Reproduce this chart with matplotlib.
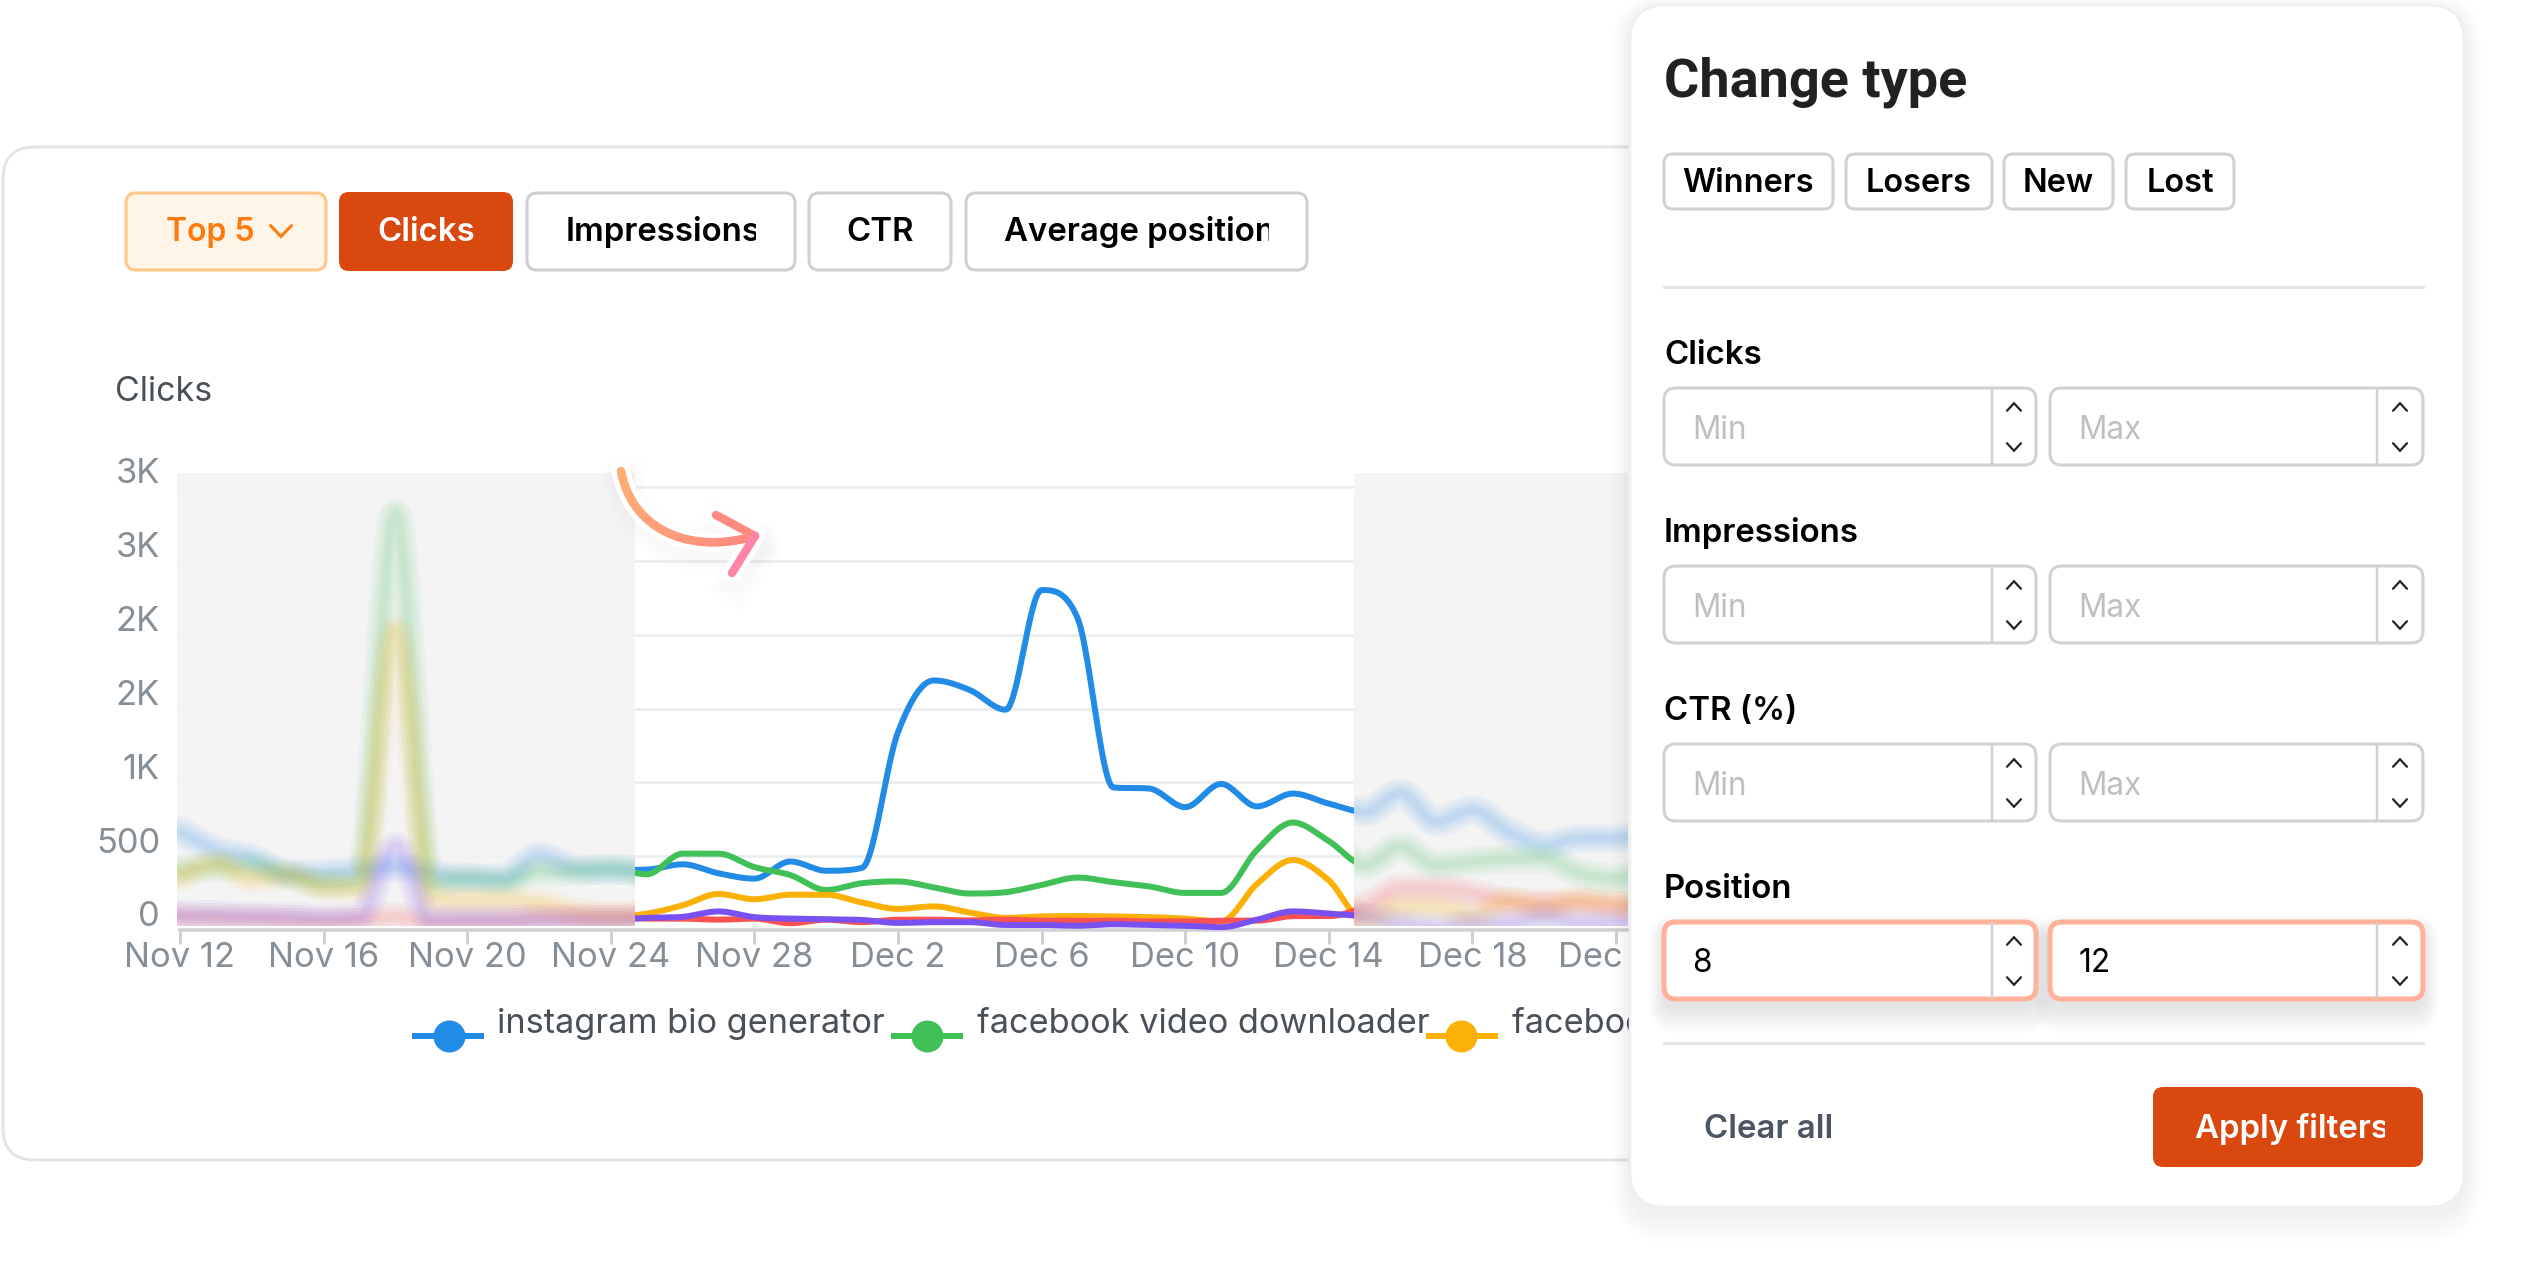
import numpy as np
import matplotlib
matplotlib.use("Agg")
import matplotlib.pyplot as plt
from matplotlib.collections import LineCollection
from matplotlib.colors import to_rgb
from matplotlib.patches import FancyBboxPatch, Rectangle
from matplotlib.transforms import Bbox, ScaledTranslation

plt.rcParams['font.family'] = ['Inter', 'DejaVu Sans']

W, H = 2532, 1267

# Values, one per day starting Nov 12
blue = [666, 542, 485, 384, 384, 406, 429, 384, 350, 350, 497, 418, 406,
        409, 445, 384, 348, 464, 401, 421, 1340, 1690, 1625, 1492, 2302, 2113, 965, 958, 832, 989, 837, 924, 856,
        800, 925, 733, 812, 666, 575, 620, 620, 666]
green = [406, 429, 429, 372, 316, 339, 2821, 316, 350, 327, 395, 395, 418,
         377, 517, 517, 426, 372, 271, 317, 329, 288, 247, 256, 305, 355, 324, 295, 251, 251, 542, 728, 602,
         440, 564, 440, 463, 485, 485, 384, 350, 418]
orange = [361, 451, 350, 372, 293, 282, 2031, 214, 203, 203, 180, 124, 90,
          111, 167, 244, 208, 239, 239, 186, 143, 160, 118, 82, 92, 94, 92, 87, 77, 58, 312, 474, 336,
          58, 158, 158, 100, 192, 158, 203, 180, 158]
red = [90, 79, 79, 68, 56, 68, 90, 56, 56, 56, 79, 79, 90,
       77, 77, 70, 77, 46, 70, 53, 70, 70, 65, 70, 63, 63, 63, 58, 58, 63, 63, 94, 94,
       158, 282, 282, 248, 192, 180, 180, 158, 180]
purple = [102, 102, 90, 90, 79, 90, 564, 68, 68, 68, 68, 68, 68,
          82, 89, 126, 87, 77, 72, 68, 48, 53, 53, 34, 34, 29, 39, 34, 29, 19, 70, 126, 111,
          90, 45, 10, 45, 45, 90, 45, 45, 45]

series_names = ['instagram bio generator', 'facebook video downloader', 'facebook downloader']
series_colors = ['#228BE6', '#40C057', '#FAB005', '#FA5252', '#7950F2']
x_labels = ['Nov 12', 'Nov 16', 'Nov 20', 'Nov 24', 'Nov 28', 'Dec 2', 'Dec 6', 'Dec 10', 'Dec 14', 'Dec 18', 'Dec 22']
y_values = [0, 500, 1000, 1500, 2000, 2500, 3000]
y_labels = ['0', '500', '1K', '2K', '2K', '3K', '3K']
filter_rows = ['Clicks', 'Impressions', 'CTR (%)', 'Position']

# pixel layout of the chart
PX_DAY = 35.9
X0_PX, ZERO_PX, TOP_PX = 180, 930, 487
LEFT_PX, RIGHT_PX, GREY_TOP = 177, 1628, 473
CLEAR_A, CLEAR_B = 635, 1354
PX_VAL = (ZERO_PX - TOP_PX) / 3000


def monotone(y, per_day=24):
    """Monotone cubic through the daily values, for the rounded line."""
    y = np.asarray(y, float)
    x = np.arange(len(y), dtype=float)
    d = np.diff(y)
    m = np.zeros(len(y))
    for i in range(1, len(y) - 1):
        if d[i - 1] * d[i] > 0:
            limit = 3 * min(abs(d[i - 1]), abs(d[i]))
            m[i] = np.sign(d[i]) * min(abs(d[i - 1] + d[i]) / 2, limit)
    m[0], m[-1] = d[0], d[-1]
    xs = np.linspace(0, x[-1], (len(y) - 1) * per_day + 1)
    i = np.minimum(xs.astype(int), len(y) - 2)
    t = xs - i
    ys = ((2 * t**3 - 3 * t**2 + 1) * y[i] + (t**3 - 2 * t**2 + t) * m[i]
          + (-2 * t**3 + 3 * t**2) * y[i + 1] + (t**3 - t**2) * m[i + 1])
    return xs, ys


def px(v):
    return v * 0.72


def round_box(ax, x0, y0, x1, y1, r, fc='white', ec='none', lw=0, alpha=None, z=2):
    p = FancyBboxPatch((x0, y0), x1 - x0, y1 - y0, boxstyle=f'round,pad=0,rounding_size={r}',
                       fc=fc, ec=ec, lw=px(lw), alpha=alpha, zorder=z)
    ax.add_patch(p)
    return p


def soft_shadow(ax, x0, y0, x1, y1, r, spread, dy, alpha, z=2):
    for i in range(spread, 0, -2):
        round_box(ax, x0 - i * 0.6, y0 + dy - i * 0.6, x1 + i * 0.6, y1 + dy + i, r + i * 0.6,
                  fc='black', alpha=alpha, z=z)


def chevron(ax, x, y, w, h, up, color='#222222', lw=2.2, z=5):
    s = -1 if up else 1
    ax.plot([x - w / 2, x, x + w / 2], [y - s * h / 2, y + s * h / 2, y - s * h / 2],
            color=color, lw=px(lw), solid_capstyle='round', solid_joinstyle='miter', zorder=z)


def label(ax, x, y, s, size=32, color='black', weight='normal', ha='left', clip_to=None, z=5, family=None):
    t = ax.text(x, y, s, fontsize=px(size), color=color, fontweight=weight, ha=ha, va='baseline', zorder=z)
    if family:
        t.set_family(family)
    if clip_to is not None:
        t.set_clip_box(Bbox.from_extents(0, 0, clip_to, H))
        t.set_clip_on(True)
    return t


fig = plt.figure(figsize=(W / 100, H / 100), dpi=100, facecolor='white')

# card behind the chart
back = fig.add_axes([0, 0, 1, 1], zorder=0)
back.set_xlim(0, W)
back.set_ylim(H, 0)
back.axis('off')
round_box(back, 3, 147, 1800, 1160, 32, ec='#E3E5E6', lw=3)

# chart
ax = fig.add_axes([LEFT_PX / W, 1 - ZERO_PX / H, (RIGHT_PX - LEFT_PX) / W, (ZERO_PX - GREY_TOP) / H], zorder=1)
ax.patch.set_alpha(0)
ax.set_xlim((LEFT_PX - X0_PX) / PX_DAY, (RIGHT_PX - X0_PX) / PX_DAY)
ax.set_ylim(0, (ZERO_PX - GREY_TOP) / PX_VAL)
ax.set_xticks(np.arange(len(x_labels)) * 4)
ax.set_xticklabels(x_labels)
ax.set_yticks(y_values)
ax.set_yticklabels(y_labels)
ax.grid(axis='y', color='#EDEEEF', lw=px(3))
ax.grid(axis='x', visible=False)
ax.set_axisbelow(True)
for side in ['top', 'right', 'left']:
    ax.spines[side].set_visible(False)
ax.spines['bottom'].set_color('#CFD1D3')
ax.spines['bottom'].set_linewidth(px(3.5))
ax.spines['bottom'].set_bounds(0, ax.get_xlim()[1])
ax.tick_params(axis='x', length=px(14), width=px(3), color='#CFD1D3', labelcolor='#868E96',
               labelsize=px(34.5), pad=px(-2))
ax.tick_params(axis='y', length=0, labelcolor='#868E96', labelsize=px(34.5), pad=px(17))
for t in ax.get_yticklabels():
    t.set_va('baseline')
    t.set_transform(t.get_transform() + ScaledTranslation(0, 0.035, fig.dpi_scale_trans))

a = (CLEAR_A - X0_PX) / PX_DAY
b = (CLEAR_B - X0_PX) / PX_DAY
grey_floor = (ZERO_PX - 926) / PX_VAL
y_top = ax.get_ylim()[1]
x_lo, x_hi = ax.get_xlim()
grey_rects = []
for lo, hi in [(x_lo, a), (b, x_hi)]:
    r = Rectangle((lo, grey_floor), hi - lo, y_top - grey_floor, fc='#F4F4F5', ec='none', alpha=0.95, zorder=1.5)
    ax.add_patch(r)
    grey_rects.append(r)
clear_rect = Rectangle((a, 0), b - a, y_top, transform=ax.transData)

for vals, col in zip([blue, green, orange, red, purple], series_colors):
    xs, ys = monotone(vals)
    # blurred parts either side of the clear window
    for rect in grey_rects:
        for w in [30, 24, 18, 12, 7]:
            ln, = ax.plot(xs, ys, color=col, lw=px(w), alpha=0.05, zorder=2, solid_capstyle='round')
            ln.set_clip_path(rect)
    ln, = ax.plot(xs, ys, color=col, lw=px(6), zorder=3, solid_capstyle='round')
    ln.set_clip_path(clear_rect)

# everything else is placed in image pixels
ui = fig.add_axes([0, 0, 1, 1], zorder=2)
ui.patch.set_alpha(0)
ui.set_xlim(0, W)
ui.set_ylim(H, 0)
ui.axis('off')

label(ui, 115, 401, 'Clicks', size=34, color='#495057')

# toolbar
round_box(ui, 126, 193, 326, 270, 10, fc='#FFF4E8', ec='#FFC688', lw=3)
label(ui, 166, 241, 'Top 5', color='#FF7A0C', weight='semibold')
chevron(ui, 281, 231, 21, 11, False, color='#FF7A0C', lw=3)
round_box(ui, 339, 192, 513, 271, 10, fc='#D9480F')
label(ui, 426, 241, 'Clicks', size=33, color='white', weight='semibold', ha='center')
for x0, x1, txt, tx, clip in [(527, 795, 'Impressions', 566, 756), (809, 951, 'CTR', 880, None),
                              (966, 1307, 'Average position', 1004, 1269)]:
    round_box(ui, x0, 193, x1, 270, 10, ec='#CDCFD1', lw=3)
    label(ui, tx, 241, txt, size=33, weight='semibold', ha='center' if clip is None else 'left', clip_to=clip)

# legend
for i, (name, lx, mx, tx) in enumerate(zip(series_names, [412, 891, 1426], [449, 927, 1461], [497, 977, 1512])):
    ui.plot([lx, lx + 72], [1036, 1036], color=series_colors[i], lw=px(6), solid_capstyle='butt', zorder=3)
    ui.plot([mx], [1036], 'o', color=series_colors[i], ms=px(32), mew=0, zorder=3)
    label(ui, tx, 1033, name, size=34.3, color='#495057', z=3)

# arrow from the clear window
t = np.linspace(0, 1, 60)[:, None]
P = [np.array(p, float) for p in [(621, 471), (632, 530), (690, 555), (755, 536)]]
curve = (1 - t)**3 * P[0] + 3 * (1 - t)**2 * t * P[1] + 3 * (1 - t) * t**2 * P[2] + t**3 * P[3]
head = np.array([(716, 515), (755, 536), (732, 573)], float)
for i in range(6, 0, -1):
    ui.plot(curve[:, 0] + 3, curve[:, 1] + 10, color='black', lw=px(14 + i * 5), alpha=0.005, zorder=3)
    ui.plot(head[:, 0] + 3, head[:, 1] + 10, color='black', lw=px(14 + i * 5), alpha=0.005, zorder=3)
ui.plot(curve[:, 0], curve[:, 1], color='white', lw=px(19), solid_capstyle='round', zorder=3.1)
ui.plot(head[:, 0], head[:, 1], color='white', lw=px(19), solid_capstyle='round', solid_joinstyle='round', zorder=3.1)
c0, c1, c2 = [np.array(to_rgb(c)) for c in ['#FFB074', '#FF8A80', '#FF85A6']]
pts = curve[:, None, :]
segs = np.concatenate([pts[:-1], pts[1:]], axis=1)
grad = c0[None, :] + (c1 - c0)[None, :] * np.linspace(0, 1, len(segs))[:, None]
ui.add_collection(LineCollection(segs, colors=grad, linewidths=px(8.5), capstyle='round', zorder=3.2))
ui.plot(head[:2, 0], head[:2, 1], color='#FF8A80', lw=px(8.5), solid_capstyle='round', zorder=3.2)
ui.plot(head[1:, 0], head[1:, 1], color=c2, lw=px(8.5), solid_capstyle='round', zorder=3.2)

# filter panel
soft_shadow(ui, 1630, 5, 2464, 1207, 36, 30, 6, 0.0045, z=3.5)
round_box(ui, 1630, 5, 2464, 1207, 36, ec='#EEEFEF', lw=2.5, z=3.6)
label(ui, 1664, 97, 'Change type', size=54, color='#212121', weight='bold', family=['Roboto', 'DejaVu Sans'])
for x0, x1, txt in [(1664, 1833, 'Winners'), (1846, 1992, 'Losers'), (2004, 2113, 'New'), (2126, 2234, 'Lost')]:
    round_box(ui, x0, 154, x1, 209, 9, ec='#CFD1D3', lw=3, z=4)
    label(ui, (x0 + x1) / 2, 192, txt, weight='semibold', ha='center', size=32.5)
ui.plot([1664, 2423], [287, 287], color='#E3E4E5', lw=px(3), zorder=4)
ui.plot([1664, 2423], [1043, 1043], color='#E3E4E5', lw=px(3), zorder=4.2)

for i, row in enumerate(filter_rows):
    dy = i * 178
    active = row == 'Position'
    label(ui, 1664, 364 + dy, row, weight='semibold', size=33)
    for x0, x1, x_sep, x_car, txt, val in [(1664, 2036, 1992, 2014, 'Min', '8'), (2050, 2423, 2377, 2400, 'Max', '12')]:
        if active:
            soft_shadow(ui, x0, 388 + dy, x1, 465 + dy, 12, 26, 8, 0.006, z=4)
        round_box(ui, x0, 388 + dy, x1, 465 + dy, 12, ec='#FFB199' if active else '#CFD1D3', lw=5 if active else 3, z=4.1)
        ui.plot([x_sep, x_sep], [389 + dy, 464 + dy], color='#CFD1D3', lw=px(2.5), zorder=4.2)
        chevron(ui, x_car, 407 + dy, 14, 7.5, True)
        chevron(ui, x_car, 447 + dy, 14, 7.5, False)
        if active:
            label(ui, x0 + 28, 438 + dy, val, size=31.5, color='black')
        else:
            label(ui, x0 + 28, 439 + dy, txt, size=31.5, color='#BDBFC1')

label(ui, 1704, 1138, 'Clear all', size=33, color='#4B5563', weight='semibold')
round_box(ui, 2153, 1087, 2423, 1167, 10, fc='#D9480F', z=4)
label(ui, 2195, 1138, 'Apply filters', size=33, color='white', weight='semibold', clip_to=2385)

fig.savefig('out.png', dpi=100, facecolor='white')
